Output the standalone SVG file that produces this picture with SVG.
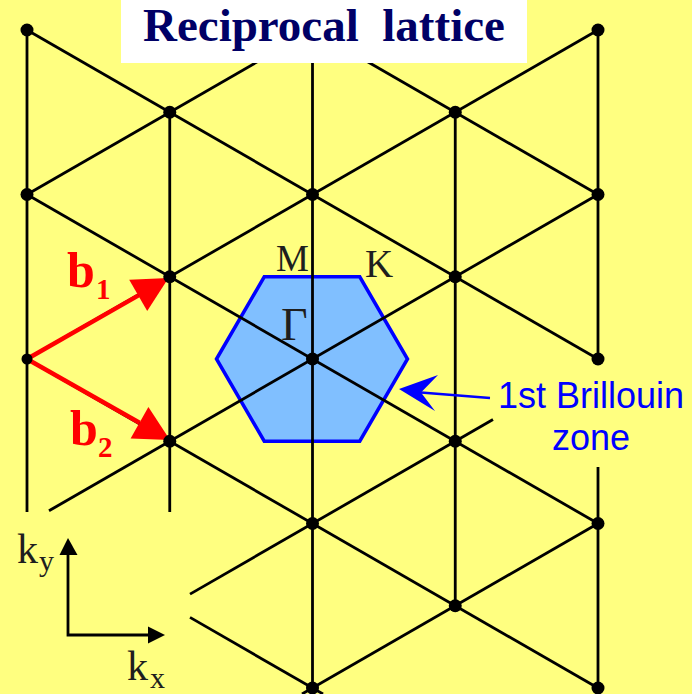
<svg xmlns="http://www.w3.org/2000/svg" width="692" height="694" viewBox="0 0 692 694">
  <style>
    .ln { stroke: #000; stroke-width: 2.8; fill: none; stroke-linecap: butt; }
    .dot { fill: #000; }
    .serif { font-family: "Liberation Serif", "Times New Roman", serif; fill: #1e1e1e; }
    .bvec { font-family: "Liberation Serif", "Times New Roman", serif; font-weight: bold; fill: #ff0000; }
    .sans { font-family: "Liberation Sans", Arial, sans-serif; fill: #0000ff; font-size: 36px; text-anchor: middle; }
    .red { stroke: #ff0000; stroke-width: 4.5; fill: none; }
    .ax { stroke: #000; stroke-width: 2.8; fill: none; }
  </style>
  <rect x="0" y="0" width="692" height="694" fill="#ffff80"/>

  <g id="brillouin-zone">
    <polygon points="216.5,359 264.25,276.75 359.75,276.75 407.5,359 359.75,441.25 264.25,441.25" fill="#80bfff" stroke="#0000ff" stroke-width="3.5" stroke-linejoin="miter"/>
  </g>

  <g id="connectors">
    <!-- vertical lines -->
    <line class="ln" x1="27" y1="30" x2="27" y2="512"/>
    <line class="ln" x1="169.75" y1="112.25" x2="169.75" y2="512"/>
    <line class="ln" x1="312.5" y1="30" x2="312.5" y2="694"/>
    <line class="ln" x1="455.25" y1="112.25" x2="455.25" y2="605.75"/>
    <line class="ln" x1="598" y1="30" x2="598" y2="362"/>
    <line class="ln" x1="598" y1="467" x2="598" y2="688"/>
    <!-- up-right diagonals -->
    <line class="ln" x1="27" y1="194.5" x2="312.5" y2="30"/>
    <line class="ln" x1="27" y1="359" x2="598" y2="30"/>
    <line class="ln" x1="49" y1="510.8" x2="598" y2="194.5"/>
    <line class="ln" x1="190" y1="594.1" x2="493" y2="419.5"/>
    <line class="ln" x1="302" y1="694" x2="598" y2="523.5"/>
    <!-- down-right diagonals -->
    <line class="ln" x1="312.5" y1="30" x2="598" y2="194.5"/>
    <line class="ln" x1="27" y1="30" x2="598" y2="359"/>
    <line class="ln" x1="27" y1="194.5" x2="598" y2="523.5"/>
    <line class="ln" x1="27" y1="359" x2="598" y2="688"/>
    <line class="ln" x1="190" y1="617.4" x2="323" y2="694"/>
    <!-- blue pointer arrow -->
    <line x1="490" y1="398" x2="421" y2="392.5" stroke="#0000ff" stroke-width="2.5"/>
    <polygon points="399,389 438,375 421,392.5 435,411" fill="#0000ff"/>
    <!-- reciprocal vectors -->
    <line class="red" x1="27" y1="359" x2="138.5" y2="295.4"/>
    <polygon points="168.5,278 129.2,279.8 147.2,311" fill="#ff0000"/>
    <line class="red" x1="27" y1="359" x2="139.5" y2="422.7"/>
    <polygon points="170,440 130.6,438.4 148.4,407" fill="#ff0000"/>
    <!-- axes -->
    <polyline class="ax" points="68,553 68,635 150,635"/>
    <polygon points="68,538 59.5,555 77.5,555" fill="#000"/>
    <polygon points="165,635 148,626.5 148,643.5" fill="#000"/>
  </g>

  <g id="lattice-points">
    <circle class="dot" cx="27" cy="30" r="6.5"/>
    <circle class="dot" cx="27" cy="194.5" r="6.5"/>
    <circle class="dot" cx="27" cy="359" r="5.5"/>
    <circle class="dot" cx="169.75" cy="112.25" r="6.5"/>
    <circle class="dot" cx="169.75" cy="276.75" r="6.5"/>
    <circle class="dot" cx="169.75" cy="441.25" r="6.5"/>
    <circle class="dot" cx="312.5" cy="194.5" r="6.5"/>
    <circle class="dot" cx="312.5" cy="359" r="6.5"/>
    <circle class="dot" cx="312.5" cy="523.5" r="6.5"/>
    <circle class="dot" cx="312.5" cy="688" r="6.5"/>
    <circle class="dot" cx="455.25" cy="112.25" r="6.5"/>
    <circle class="dot" cx="455.25" cy="276.75" r="6.5"/>
    <circle class="dot" cx="455.25" cy="441.25" r="6.5"/>
    <circle class="dot" cx="455.25" cy="605.75" r="6.5"/>
    <circle class="dot" cx="598" cy="30" r="6.5"/>
    <circle class="dot" cx="598" cy="194.5" r="6.5"/>
    <circle class="dot" cx="598" cy="359" r="6.5"/>
    <circle class="dot" cx="598" cy="523.5" r="6.5"/>
    <circle class="dot" cx="598" cy="688" r="6.5"/>
  </g>

  <g id="title">
    <rect x="121" y="0" width="406" height="63" fill="#ffffff"/>
    <text x="143" y="41" font-family="Liberation Serif, Times New Roman, serif" font-weight="bold" font-size="47" fill="#000066" style="white-space:pre" xml:space="preserve">Reciprocal  lattice</text>
  </g>

  <g id="labels">
    <text class="serif" x="276" y="271" font-size="37">M</text>
    <text class="serif" x="365" y="277" font-size="39">K</text>
    <text class="serif" x="281" y="340" font-size="46">Γ</text>
    <text class="bvec" x="67" y="287" font-size="50">b</text>
    <text class="bvec" x="96" y="299" font-size="29">1</text>
    <text class="bvec" x="70" y="445" font-size="50">b</text>
    <text class="bvec" x="98" y="457" font-size="29">2</text>
    <text class="serif" x="17" y="563" font-size="42">k</text>
    <text class="serif" x="39" y="571" font-size="30">y</text>
    <text class="serif" x="127" y="680" font-size="42">k</text>
    <text class="serif" x="150" y="688" font-size="30">x</text>
  </g>

  <g id="zone-label">
    <text class="sans" x="591" y="408">1st Brillouin</text>
    <text class="sans" x="591" y="450">zone</text>
  </g>
</svg>
